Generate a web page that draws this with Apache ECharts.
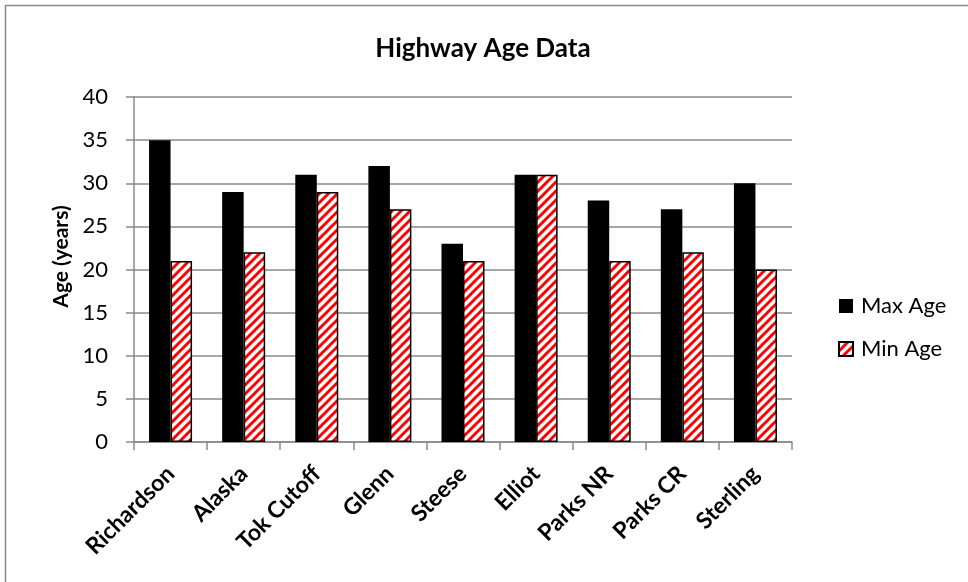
<!DOCTYPE html>
<html>
<head>
<meta charset="utf-8">
<script src="https://cdn.jsdelivr.net/npm/echarts@6/dist/echarts.min.js"></script>
<style>
  html, body { margin: 0; padding: 0; background: #fff; }
  #chart { width: 968px; height: 582px; }
</style>
</head>
<body>
<div id="chart"></div>
<script>
// Highway names along the x axis
const highways = ['Richardson', 'Alaska', 'Tok Cutoff', 'Glenn', 'Steese', 'Elliot', 'Parks NR', 'Parks CR', 'Sterling'];
// Oldest section age per highway (years)
const maxAge = [35, 29, 31, 32, 23, 31, 28, 27, 30];
// Newest section age per highway (years)
const minAge = [21, 22, 29, 27, 21, 31, 21, 22, 20];

// Red diagonal hatch tile for the "Min Age" bars
function hatchTile() {
  const s = 9;
  const c = document.createElement('canvas');
  c.width = s; c.height = s;
  const g = c.getContext('2d');
  g.fillStyle = '#fff';
  g.fillRect(0, 0, s, s);
  g.strokeStyle = '#ff0000';
  g.lineWidth = 3;
  for (let k = -1; k <= 1; k++) {
    g.beginPath();
    g.moveTo(k * s - 1, s + 1);
    g.lineTo(k * s + s + 1, -1);
    g.stroke();
  }
  return c;
}

const font = 'Lato, "Open Sans", sans-serif';
const chart = echarts.init(document.getElementById('chart'), null, { renderer: 'canvas' });

chart.setOption({
  backgroundColor: '#fff',
  animation: false,
  graphic: [{
    type: 'rect',
    shape: { x: 5.5, y: 5.5, width: 990, height: 600 },
    style: { fill: 'none', stroke: '#8a8a8a', lineWidth: 1.5 },
    silent: true
  }],
  title: {
    text: 'Highway Age Data',
    left: 478, top: 31, textAlign: 'center',
    textStyle: { fontFamily: font, fontWeight: 'bold', fontSize: 26, color: '#000' }
  },
  legend: {
    orient: 'vertical',
    left: 833, top: 290,
    itemWidth: 14, itemHeight: 14, itemGap: 21,
    icon: 'rect',
    textStyle: { fontFamily: font, fontSize: 22, color: '#000', padding: [0, 0, 0, 3] },
    data: ['Max Age', 'Min Age']
  },
  grid: { left: 134, right: 176, top: 97, bottom: 140, containLabel: false },
  xAxis: {
    type: 'category',
    data: highways,
    axisLine: { lineStyle: { color: '#8a8a8a', width: 1.5 } },
    axisTick: { show: true, length: 8, lineStyle: { color: '#8a8a8a', width: 1.5 } },
    axisLabel: {
      rotate: 45, margin: 28, interval: 0,
      fontFamily: font, fontSize: 23, fontWeight: 'bold', color: '#000'
    }
  },
  yAxis: {
    type: 'value',
    min: 0, max: 40, interval: 5,
    name: 'Age (years)',
    nameLocation: 'middle',
    nameGap: 62,
    nameRotate: 90,
    nameTextStyle: { fontFamily: font, fontSize: 21, fontWeight: 'bold', color: '#000', padding: [0, 0, 0, 26] },
    axisLine: { show: true, lineStyle: { color: '#8a8a8a', width: 1.5 } },
    axisTick: { show: true, length: 8, lineStyle: { color: '#8a8a8a', width: 1.5 } },
    axisLabel: { margin: 26, fontFamily: font, fontSize: 22, color: '#000' },
    splitLine: { lineStyle: { color: '#8a8a8a', width: 1.5 } }
  },
  series: [
    {
      name: 'Max Age', type: 'bar', data: maxAge,
      barWidth: 21.5, barGap: '0%',
      itemStyle: { color: '#000' }
    },
    {
      name: 'Min Age', type: 'bar', data: minAge,
      barWidth: 21.5,
      itemStyle: {
        color: { image: hatchTile(), repeat: 'repeat' },
        borderColor: '#000', borderWidth: 1.5
      }
    }
  ]
});
</script>
</body>
</html>
